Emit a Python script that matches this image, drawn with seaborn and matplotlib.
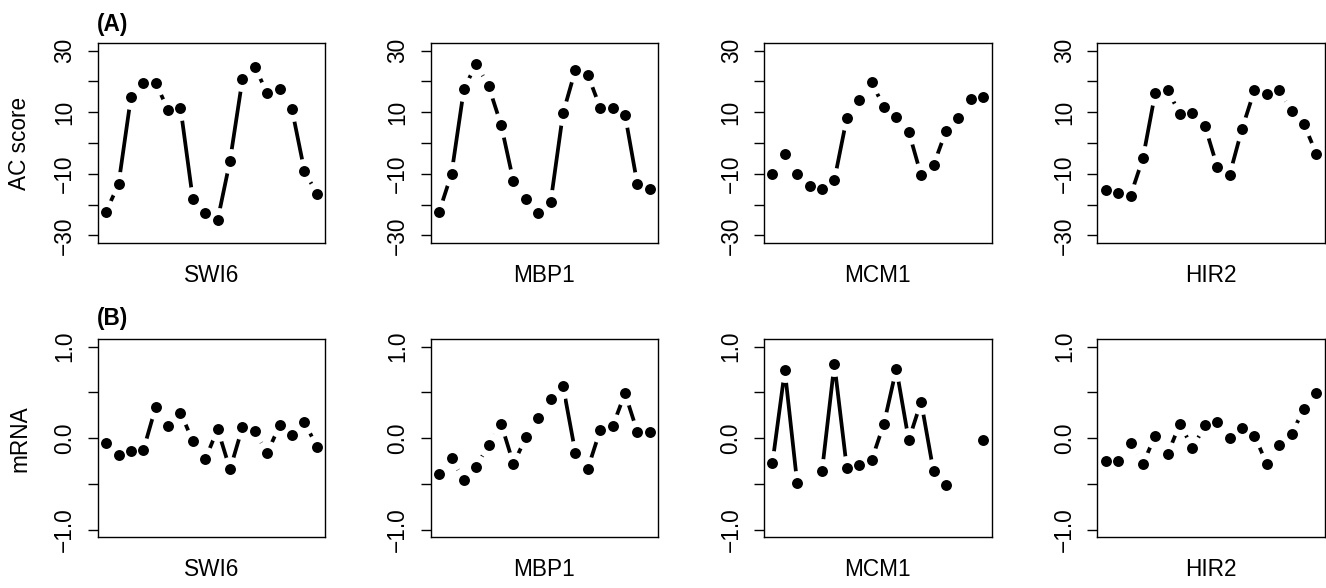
import numpy as np
import pandas as pd
import matplotlib
matplotlib.use("Agg")
import matplotlib.pyplot as plt
import seaborn as sns

sns.set_style("white")
plt.rcParams['font.family'] = ['Liberation Sans', 'DejaVu Sans']
plt.rcParams['text.color'] = 'black'
plt.rcParams['axes.labelcolor'] = 'black'
plt.rcParams['xtick.color'] = 'black'
plt.rcParams['ytick.color'] = 'black'

genes = ["SWI6", "MBP1", "MCM1", "HIR2"]
time_points = list(range(1, 19))

ac_swi6 = [-22.3, -13.4, 14.8, 19.6, 19.6, 10.7, 11.5, -18.3, -22.8, -25.0, -5.7, 20.7, 24.7, 16.2, 17.4, 10.9, -9.0, -16.5]
ac_mbp1 = [-22.4, -10.0, 17.5, 25.8, 18.4, 5.9, -12.5, -18.2, -22.6, -19.2, 9.7, 23.8, 22.1, 11.5, 11.4, 9.2, -13.4, -15.1]
ac_mcm1 = [-10.1, -3.6, -10.1, -14.1, -15.1, -12.0, 8.1, 14.1, 19.8, 11.6, 8.5, 3.7, -10.5, -7.2, 3.8, 8.1, 14.3, 15.0]
ac_hir2 = [-15.3, -16.1, -17.1, -5.0, 16.4, 17.1, 9.4, 9.6, 5.6, -7.7, -10.3, 4.6, 17.1, 16.0, 17.1, 10.3, 6.1, -3.5]

mrna_swi6 = [-0.055, -0.18, -0.14, -0.13, 0.34, 0.13, 0.28, -0.03, -0.23, 0.10, -0.34, 0.12, 0.08, -0.16, 0.14, 0.04, 0.18, -0.09]
mrna_mbp1 = [-0.39, -0.21, -0.46, -0.31, -0.07, 0.16, -0.28, 0.01, 0.22, 0.43, 0.57, -0.16, -0.33, 0.09, 0.13, 0.49, 0.07, 0.07]
mrna_mcm1 = [-0.27, 0.74, -0.49, np.nan, -0.36, 0.81, -0.32, -0.29, -0.24, 0.16, 0.76, -0.02, 0.40, -0.36, -0.51, np.nan, np.nan, -0.02]
mrna_hir2 = [-0.25, -0.25, -0.05, -0.28, 0.03, -0.17, 0.16, -0.11, 0.14, 0.18, 0.0, 0.11, 0.03, -0.28, -0.07, 0.05, 0.32, 0.49]

ac_ticks = [-30, -20, -10, 0, 10, 20, 30]
ac_labels = ["\u221230", "", "\u221210", "", "10", "", "30"]
mrna_ticks = [-1.0, -0.5, 0.0, 0.5, 1.0]
mrna_labels = ["\u22121.0", "", "0.0", "", "1.0"]

rows = [
    dict(series=[ac_swi6, ac_mbp1, ac_mcm1, ac_hir2], ylim=(-32.4, 32.4),
         ticks=ac_ticks, labels=ac_labels, ylabel="AC score", tag="(A)",
         bottom_px=242.7, height_px=199.4, tag_y=24),
    dict(series=[mrna_swi6, mrna_mbp1, mrna_mcm1, mrna_hir2], ylim=(-1.08, 1.08),
         ticks=mrna_ticks, labels=mrna_labels, ylabel="mRNA", tag="(B)",
         bottom_px=537.3, height_px=198.0, tag_y=319),
]

W, H = 1326, 588
fig = plt.figure(figsize=(W / 100, H / 100), dpi=100)
lefts_px = [97.7, 430.7, 764.0, 1097.3]
width_px = 227.5
FS = 16.3

for r, row in enumerate(rows):
    for c, gene in enumerate(genes):
        ax = fig.add_axes([lefts_px[c] / W, 1 - row["bottom_px"] / H,
                           width_px / W, row["height_px"] / H])
        vals = np.array(row["series"][c], dtype=float)
        df = pd.DataFrame({"t": time_points, "v": vals})
        # contiguous runs (lines break at missing values)
        df["run"] = np.cumsum(np.isnan(vals))
        dline = df.dropna()
        sns.lineplot(data=dline, x="t", y="v", units="run", estimator=None,
                     color="black", lw=2.7, ax=ax, zorder=2, legend=False,
                     solid_capstyle="butt")
        # gaps around points (type = "b")
        sns.scatterplot(data=dline, x="t", y="v", color="white", s=320,
                        linewidth=0, ax=ax, zorder=3, legend=False)
        sns.scatterplot(data=dline, x="t", y="v", color="black", s=62,
                        linewidth=0, ax=ax, zorder=4, legend=False)
        ax.set_xlim(0.32, 18.68)
        ax.set_ylim(*row["ylim"])
        ax.set_xticks([])
        ax.set_yticks(row["ticks"])
        ax.set_yticklabels(row["labels"], rotation=90, va="center", fontsize=FS)
        ax.tick_params(axis="y", left=True, length=7.4, width=1.0, pad=8.0,
                       color="black", labelcolor="black")
        for sp in ax.spines.values():
            sp.set_visible(True)
            sp.set_color("black")
            sp.set_linewidth(1.0)
            sp.set_zorder(5)
        ax.set_xlabel(gene, fontsize=FS)
        ax.xaxis.set_label_coords(0.5, -0.165)
        ax.xaxis.label.set_va("center")
        if c == 0:
            ax.set_ylabel(row["ylabel"], fontsize=FS)
            ax.yaxis.set_label_coords((19.5 - lefts_px[0]) / width_px, 0.5)
            ax.yaxis.label.set_va("center")
        else:
            ax.set_ylabel("")
    fig.text(96.5 / W, 1 - row["tag_y"] / H, row["tag"], fontsize=FS,
             fontweight="bold", ha="left", va="center")

fig.savefig("out.png", dpi=100)
